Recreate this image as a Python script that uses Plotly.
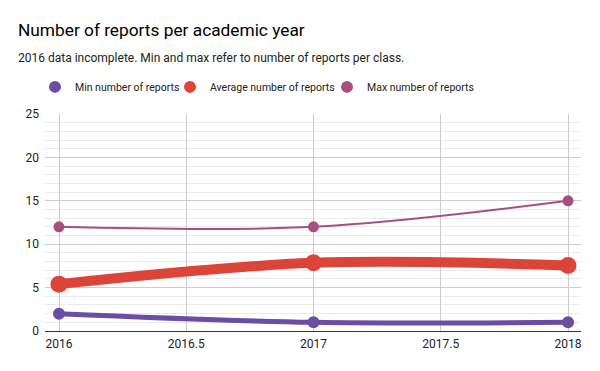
import plotly.graph_objects as go

years = [2016, 2017, 2018]
min_reports = [2, 1, 1]
avg_reports = [5.4, 7.85, 7.55]
max_reports = [12, 12, 15]

series = [
    ("Min number of reports", min_reports, "#6a4ea6", 5, 12, "legend", 56),
    ("Average number of reports", avg_reports, "#dc4437", 10, 17, "legend2", 191),
    ("Max number of reports", max_reports, "#a8507d", 2, 11, "legend3", 348),
]

fig = go.Figure()
for name, vals, color, lw, ms, lg, cx in series:
    fig.add_trace(go.Scatter(
        x=years, y=vals, mode="lines", name=name,
        line=dict(color=color, width=lw, shape="spline", smoothing=1),
        showlegend=False, hoverinfo="skip",
    ))
for name, vals, color, lw, ms, lg, cx in series:
    fig.add_trace(go.Scatter(
        x=years, y=vals, mode="markers", name=name, legend=lg,
        marker=dict(color=color, size=ms, line=dict(width=0)),
    ))

font = "Roboto, Arial, sans-serif"
legends = {}
for name, vals, color, lw, ms, lg, cx in series:
    legends[lg] = dict(
        orientation="h", x=(cx - 21 - 45) / 536, xanchor="left",
        y=1.125, yanchor="middle",
        font=dict(size=10.5, color="#222222"), itemsizing="constant",
        itemwidth=30, bgcolor="rgba(0,0,0,0)",
    )

fig.update_layout(
    width=600, height=371,
    margin=dict(l=45, r=19, t=114, b=40),
    paper_bgcolor="white", plot_bgcolor="white",
    font=dict(family=font, size=12, color="#222222"),
    showlegend=True,
    **legends,
    xaxis=dict(
        range=[2015.945, 2018.051], dtick=0.5, tick0=2016, tickformat=".1~f",
        showgrid=True, gridcolor="#cccccc", gridwidth=1,
        zeroline=False, showline=False, ticks="", ticklabelstandoff=4,
        tickfont=dict(size=12, color="#222222"),
    ),
    yaxis=dict(
        range=[0, 25], dtick=5, tick0=0,
        showgrid=True, gridcolor="#cccccc", gridwidth=1,
        minor=dict(dtick=1, showgrid=True, gridcolor="#ebebeb", gridwidth=1),
        zeroline=True, zerolinecolor="#333333", zerolinewidth=1,
        showline=False, ticks="", ticklabelstandoff=5,
        tickfont=dict(size=12, color="#222222"),
    ),
    annotations=[
        dict(text="Number of reports per academic year", xref="paper", yref="paper",
             x=-0.055, y=1 + (114 - 30) / 217, xanchor="left", yanchor="middle",
             showarrow=False, font=dict(size=17.3, color="#000000", family=font)),
        dict(text="2016 data incomplete. Min and max refer to number of reports per class.",
             xref="paper", yref="paper",
             x=-0.055, y=1 + (114 - 58) / 217, xanchor="left", yanchor="middle",
             showarrow=False, font=dict(size=12, color="#222222", family=font)),
    ],
)

fig.write_html("out.html", config={"displayModeBar": False},
               post_script="document.body.style.margin='0';")
